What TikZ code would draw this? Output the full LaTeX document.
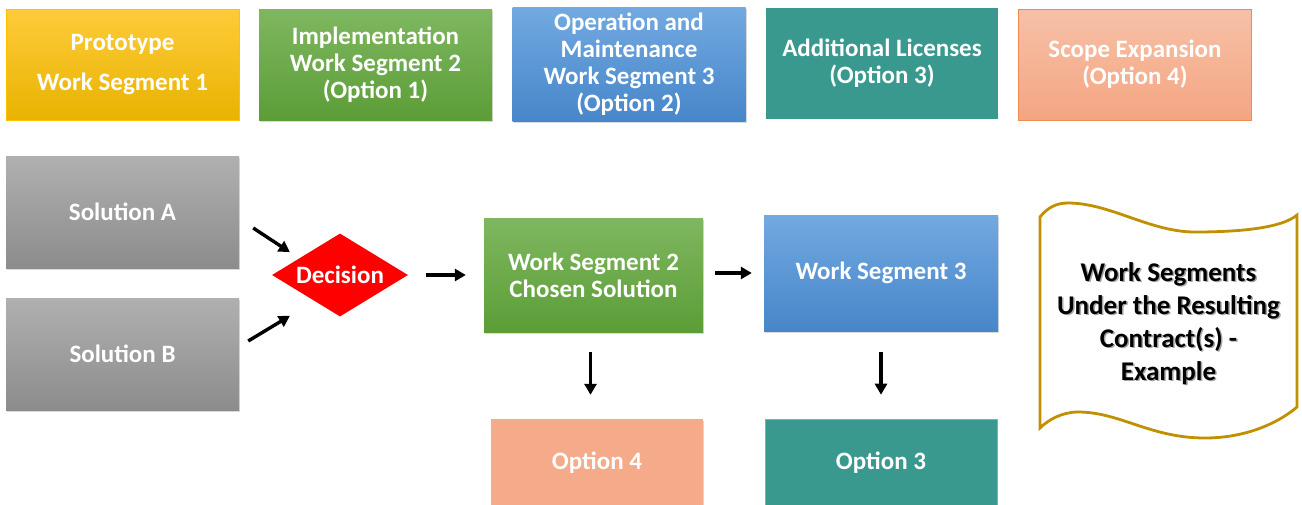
\documentclass[tikz,border=0pt]{standalone}
\usepackage{fontspec}
\setmainfont{Carlito}
\usepackage{tikz}
\usetikzlibrary{positioning,arrows.meta,shapes.geometric,calc,shadows}

\definecolor{goldA}{HTML}{FFCB3A}
\definecolor{goldB}{HTML}{E8B300}
\definecolor{goldC}{HTML}{FFC000}
\definecolor{greenA}{HTML}{7EB760}
\definecolor{greenB}{HTML}{5C9D37}
\definecolor{blueA}{HTML}{72A9E0}
\definecolor{blueB}{HTML}{4786CA}
\definecolor{tealA}{HTML}{3A998E}
\definecolor{salmonA}{HTML}{F7C1A7}
\definecolor{salmonB}{HTML}{F4A582}
\definecolor{salmonC}{HTML}{F08C50}
\definecolor{salmonD}{HTML}{F5AA8A}
\definecolor{grayA}{HTML}{B0B0B0}
\definecolor{grayB}{HTML}{8C8C8C}
\definecolor{waveline}{HTML}{BF9000}

\begin{document}
\begin{tikzpicture}[x=1pt, y=-1pt,
  seg/.style={minimum width=233pt, minimum height=111pt, inner sep=0pt, align=center,
    text=white, font=\fontsize{25}{27}\selectfont\bfseries},
  shade/.style={drop shadow={shadow xshift=1.2pt, shadow yshift=-1.5pt, opacity=.3}},
  arr/.style={line width=3.4pt, -{Triangle[length=11pt,width=12pt]}},
  notefont/.style={font=\fontsize{27}{33}\selectfont\bfseries, align=center}
]
  \useasboundingbox (0,0) rectangle (1302,504);
  \clip (0,0) rectangle (1302,504);

  % Top row: work segments and options
  \node[seg, top color=goldA, bottom color=goldB, draw=goldC, line width=0.8pt]
    (proto) at (122.5,64.5) {Prototype\\[13pt]Work Segment 1};
  \node[seg, shade, top color=greenA, bottom color=greenB]
    (impl) at (375.5,65) {Implementation\\Work Segment 2\\(Option 1)};
  \node[seg, shade, top color=blueA, bottom color=blueB, minimum height=114pt]
    (oper) at (629,64) {Operation and\\Maintenance\\Work Segment 3\\(Option 2)};
  \node[seg, fill=tealA, minimum width=232pt]
    (lic) at (882,63.5) {Additional Licenses\\(Option 3)};
  \node[seg, top color=salmonA, bottom color=salmonB, draw=salmonC, line width=0.8pt]
    (scope) at (1135,64.5) {Scope Expansion\\(Option 4)};

  % Solutions and decision
  \node[seg, shade, top color=grayA, bottom color=grayB, minimum height=112pt]
    (solA) at (122.5,212) {Solution A};
  \node[seg, shade, top color=grayA, bottom color=grayB, minimum height=112pt]
    (solB) at (122.5,354) {Solution B};
  \node[diamond, fill=red, minimum width=136pt, minimum height=83pt, inner sep=0pt,
    aspect=1.64, text=white, font=\fontsize{25}{27}\selectfont\bfseries]
    (dec) at (340,275) {Decision};

  % Chosen work segments
  \node[seg, shade, top color=greenA, bottom color=greenB, minimum width=219pt, minimum height=114pt]
    (ws2) at (593.5,275) {Work Segment 2\\Chosen Solution};
  \node[seg, shade, top color=blueA, bottom color=blueB, minimum width=234pt, minimum height=116pt]
    (ws3) at (881,273) {Work Segment 3};

  % Resulting options
  \node[seg, shade, fill=salmonD, minimum width=212pt, minimum height=88pt]
    (opt4) at (597,463) {Option 4};
  \node[seg, fill=tealA, draw=salmonC, line width=0.6pt, minimum width=232pt, minimum height=88pt]
    (opt3) at (881,463) {Option 3};

  % Arrows
  \draw[arr] ($(solA.east)+(14,16)$) -- ($(dec.north west)+(-16,-2)$);
  \draw[arr] ($(solB.east)+(9,-13)$) -- ($(dec.south west)+(-16,20)$);
  \draw[arr, shorten <=18pt, shorten >=18pt] (dec.east) -- (ws2.west);
  \draw[arr, shorten <=12pt, shorten >=12pt] ($(ws2.east)+(0,-2)$) -- ($(ws2.east -| ws3.west)+(0,-2)$);
  \draw[arr, shorten <=20pt, shorten >=24pt] ($(ws2.south)+(-3,0)$) -- ($(ws2.south |- opt4.north)+(-3,0)$);
  \draw[arr, shorten <=21pt, shorten >=24pt] (ws3.south) -- (ws3.south |- opt3.north);

  % Wavy note
  \draw[line width=2.8pt, draw=waveline, fill=white]
    (1040,217) .. controls (1048,207) and (1057,203) .. (1068,203)
    .. controls (1110,203) and (1150,232) .. (1195,232)
    .. controls (1240,232) and (1282,228) .. (1297,215)
    -- (1297,407)
    .. controls (1282,420) and (1250,438) .. (1205,438)
    .. controls (1150,438) and (1120,412) .. (1078,412)
    .. controls (1062,412) and (1048,420) .. (1040,428) -- cycle;
  \node[notefont, text=black!35] (noteshadow) at (1170,325)
    {Work Segments\\Under the Resulting\\Contract(s) -\\Example};
  \node[notefont, text=black] (note) at (1168.5,323.5)
    {Work Segments\\Under the Resulting\\Contract(s) -\\Example};
\end{tikzpicture}
\end{document}
